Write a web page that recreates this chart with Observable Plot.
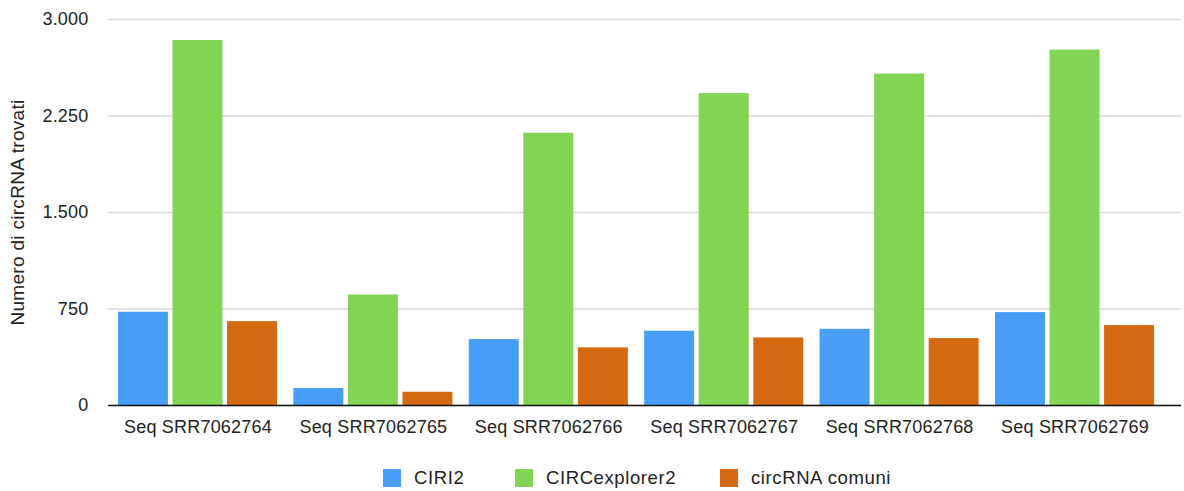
<!DOCTYPE html>
<html>
<head>
<meta charset="utf-8">
<script src="https://cdn.jsdelivr.net/npm/d3@7"></script>
<script src="https://cdn.jsdelivr.net/npm/@observablehq/plot@0.6"></script>
<style>
  body { margin: 0; background: #fff; font-family: "Liberation Sans", Arial, Helvetica, sans-serif; }
  #chart svg { display: block; }
  #chart svg text { letter-spacing: 0.2px; }
  #chart svg .ylabel text { letter-spacing: 0.3px; }
  .legend { position: relative; height: 43px; font-size: 18.5px; letter-spacing: 0.6px; color: #222; }
  .legend .item { position: absolute; top: 21px; display: flex; align-items: center; height: 18px; }
  .legend .swatch { width: 18px; height: 18px; margin-right: 13px; }
</style>
</head>
<body>
<div id="chart"></div>
<div class="legend" id="legend"></div>
<script>
// Samples (x categories)
const samples = ["Seq SRR7062764", "Seq SRR7062765", "Seq SRR7062766", "Seq SRR7062767", "Seq SRR7062768", "Seq SRR7062769"];
// Series names and colours
const series = ["CIRI2", "CIRCexplorer2", "circRNA comuni"];
const seriesColors = ["#479ef6", "#82d552", "#d5690f"];
// circRNA counts per sample
const ciri2 = [725, 132, 512, 577, 592, 722];
const circExplorer2 = [2837, 859, 2116, 2424, 2576, 2762];
const comuni = [652, 103, 448, 525, 520, 621];
// y-axis ticks
const yTicks = [0, 750, 1500, 2250, 3000];

const values = [ciri2, circExplorer2, comuni];
const rows = [];
samples.forEach((s, i) => series.forEach((name, k) => rows.push({sample: s, i, series: name, k, value: values[k][i]})));

// Bars sit side by side around each sample's index
const offsets = [-0.311, 0, 0.311];
const half = 0.1425;

const itFormat = d3.formatLocale({decimal: ",", thousands: ".", grouping: [3], currency: ["", "€"]}).format(",");

const chart = Plot.plot({
  width: 1184,
  height: 448,
  marginLeft: 108,
  marginRight: 3,
  marginTop: 19,
  marginBottom: 43,
  style: {fontFamily: "'Liberation Sans', Arial, Helvetica, sans-serif", fontSize: "18px", color: "#222", background: "#fff"},
  x: {type: "linear", domain: [-0.51, 5.607]},
  y: {domain: [0, 3000]},
  color: {domain: series, range: seriesColors},
  marks: [
    Plot.gridY(yTicks, {stroke: "#d9d9d9", strokeOpacity: 1, strokeWidth: 1.5}),
    Plot.rect(rows, {
      x1: d => d.i + offsets[d.k] - half,
      x2: d => d.i + offsets[d.k] + half,
      y1: d => 0,
      y2: "value",
      fill: "series"
    }),
    Plot.ruleY([0], {stroke: "#111", strokeWidth: 1.5}),
    Plot.axisY(yTicks, {tickSize: 0, tickPadding: 20, tickFormat: itFormat, label: null, fontSize: 18}),
    Plot.axisX(d3.range(samples.length), {tickSize: 0, tickPadding: 15, tickFormat: i => samples[i], label: null, fontSize: 18}),
    Plot.text(["Numero di circRNA trovati"], {
      frameAnchor: "left", textAnchor: "middle", dx: -91, rotate: -90,
      fontSize: 19, fill: "#222", className: "ylabel"
    })
  ]
});
document.getElementById("chart").append(chart);

// Legend entries, left positions of each swatch
const legendLeft = [383, 515, 720];
const legend = document.getElementById("legend");
series.forEach((name, k) => {
  const item = document.createElement("div");
  item.className = "item";
  item.style.left = legendLeft[k] + "px";
  const sw = document.createElement("span");
  sw.className = "swatch";
  sw.style.background = seriesColors[k];
  const label = document.createElement("span");
  label.textContent = name;
  item.append(sw, label);
  legend.append(item);
});
</script>
</body>
</html>
